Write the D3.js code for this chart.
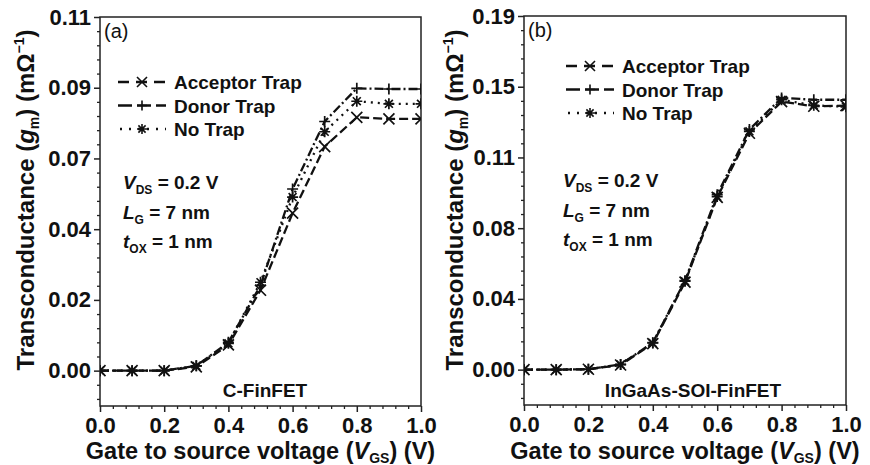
<!DOCTYPE html>
<html>
<head>
<meta charset="utf-8">
<script src="https://cdn.jsdelivr.net/npm/d3@7"></script>
<style>
  body { margin: 0; background: #fff; }
  text { font-family: "Liberation Sans", Arial, sans-serif; fill: #111; }
</style>
</head>
<body>
<div id="chart"></div>
<script>
// gate voltage steps
const vgs = [0, 0.1, 0.2, 0.3, 0.4, 0.5, 0.6, 0.7, 0.8, 0.9, 1.0];

// (a) C-FinFET
const accA   = [0, 0, 0, 0.0012, 0.0080, 0.0250, 0.0490, 0.0697, 0.0788, 0.0783, 0.0783];
const donA   = [0, 0, 0, 0.0015, 0.0088, 0.0265, 0.0565, 0.0775, 0.0878, 0.0876, 0.0876];
const noneA  = [0, 0, 0, 0.0015, 0.0085, 0.0275, 0.0540, 0.0743, 0.0838, 0.0830, 0.0830];

// (b) InGaAs-SOI-FinFET
const accB   = [0, 0, 0.0002, 0.0025, 0.0140, 0.0470, 0.0925, 0.1270, 0.1440, 0.1415, 0.1418];
const donB   = [0, 0, 0.0002, 0.0028, 0.0145, 0.0478, 0.0940, 0.1290, 0.1460, 0.1450, 0.1450];
const noneB  = [0, 0, 0.0002, 0.0027, 0.0143, 0.0475, 0.0930, 0.1280, 0.1450, 0.1420, 0.1412];

const xTicks = [0, 0.2, 0.4, 0.6, 0.8, 1.0];
const xTickLabels = ["0.0", "0.2", "0.4", "0.6", "0.8", "1.0"];
const yTicksA = [0, 0.022, 0.044, 0.066, 0.088, 0.11];
const yTickLabelsA = ["0.00", "0.02", "0.04", "0.07", "0.09", "0.11"];
const yTicksB = [0, 0.038, 0.076, 0.114, 0.152, 0.19];
const yTickLabelsB = ["0.00", "0.04", "0.08", "0.11", "0.15", "0.19"];

const seriesNames = ["Acceptor Trap", "Donor Trap", "No Trap"];

const W = 870, H = 465;
const svg = d3.select("#chart").append("svg")
    .attr("width", W)
    .attr("height", H);

const styles = [
  {dash: "9,4", marker: "x"},
  {dash: "9,3,2,3", marker: "plus"},
  {dash: "2,5", marker: "star"}
];

function markerPath(type, s) {
  const p = d3.path();
  if (type == "x") {
    p.moveTo(-s, -s); p.lineTo(s, s);
    p.moveTo(-s, s); p.lineTo(s, -s);
  } else if (type == "plus") {
    p.moveTo(-s, 0); p.lineTo(s, 0);
    p.moveTo(0, -s); p.lineTo(0, s);
  } else {
    const d = s * 0.72;
    p.moveTo(-s, 0); p.lineTo(s, 0);
    p.moveTo(0, -s); p.lineTo(0, s);
    p.moveTo(-d, -d); p.lineTo(d, d);
    p.moveTo(-d, d); p.lineTo(d, -d);
  }
  return p.toString();
}

function drawPanel(cfg) {
  const x = d3.scaleLinear().domain([0, 1]).range([cfg.left, cfg.right]);
  const y = d3.scaleLinear().domain(cfg.yDomain).range([cfg.bottom, cfg.top]);
  const g = svg.append("g");

  // frame
  g.append("rect")
    .attr("x", cfg.left).attr("y", cfg.top)
    .attr("width", cfg.right - cfg.left).attr("height", cfg.bottom - cfg.top)
    .attr("fill", "none").attr("stroke", "#222").attr("stroke-width", 1.5);

  // minor ticks, 4 between each pair of majors
  const xMinor = d3.range(0, 1.0001, 0.04).filter(v => Math.abs(v / 0.2 - Math.round(v / 0.2)) > 1e-6);
  const xAxMinor = d3.axisBottom(x).tickValues(xMinor).tickSize(3).tickFormat("");
  g.append("g").attr("transform", `translate(0,${cfg.bottom})`).call(xAxMinor)
    .call(a => a.select(".domain").remove())
    .selectAll("line").attr("stroke", "#222").attr("stroke-width", 1.3);

  const yStep = cfg.yTicks[1] / 5;
  const yMinor = [];
  for (let k = -10; k < 60; k++) {
    const v = k * yStep;
    if (v < cfg.yDomain[0] - 1e-9 || v > cfg.yDomain[1] + 1e-9) continue;
    if (k % 5 == 0) continue;
    yMinor.push(v);
  }
  const yAxMinor = d3.axisLeft(y).tickValues(yMinor).tickSize(3).tickFormat("");
  g.append("g").attr("transform", `translate(${cfg.left},0)`).call(yAxMinor)
    .call(a => a.select(".domain").remove())
    .selectAll("line").attr("stroke", "#222").attr("stroke-width", 1.3);

  // major axes
  const xAx = d3.axisBottom(x).tickValues(xTicks).tickSize(6).tickPadding(5)
    .tickFormat((d, i) => xTickLabels[i]);
  const gx = g.append("g").attr("transform", `translate(0,${cfg.bottom})`).call(xAx);
  gx.select(".domain").remove();
  gx.selectAll("line").attr("stroke", "#222").attr("stroke-width", 1.5);
  gx.selectAll("text").attr("font-size", 22).attr("font-weight", "bold")
    .attr("fill", "#111").attr("font-family", "Liberation Sans, Arial, sans-serif");

  const yAx = d3.axisLeft(y).tickValues(cfg.yTicks).tickSize(6).tickPadding(3)
    .tickFormat((d, i) => cfg.yTickLabels[i]);
  const gy = g.append("g").attr("transform", `translate(${cfg.left},0)`).call(yAx);
  gy.select(".domain").remove();
  gy.selectAll("line").attr("stroke", "#222").attr("stroke-width", 1.5);
  gy.selectAll("text").attr("font-size", 22).attr("font-weight", "bold")
    .attr("fill", "#111").attr("font-family", "Liberation Sans, Arial, sans-serif");

  // axis titles
  const cx = (cfg.left + cfg.right) / 2;
  const xt = g.append("text").attr("x", cx).attr("y", 459)
    .attr("text-anchor", "middle").attr("font-size", 23.5).attr("font-weight", "bold");
  xt.append("tspan").text("Gate to source voltage (");
  xt.append("tspan").attr("font-style", "italic").text("V");
  xt.append("tspan").attr("font-size", 14).attr("dy", 4).text("GS");
  xt.append("tspan").attr("dy", -4).text(") (V)");

  const yt = g.append("text")
    .attr("transform", `translate(${cfg.titleX},200) rotate(-90)`)
    .attr("text-anchor", "middle").attr("font-size", 24).attr("font-weight", "bold");
  yt.append("tspan").text("Transconductance (");
  yt.append("tspan").attr("font-style", "italic").text("g");
  yt.append("tspan").attr("font-size", 14).attr("dy", 5).text("m");
  yt.append("tspan").attr("dy", -5).text(") (m\u03A9");
  yt.append("tspan").attr("font-size", 14).attr("dy", -10).text("\u22121");
  yt.append("tspan").attr("dy", 10).text(")");

  // panel label
  g.append("text").attr("x", cfg.left + 4).attr("y", cfg.top + 21)
    .attr("font-size", 20).text(cfg.label);

  // clip
  const clipId = "clip" + cfg.label.replace(/\W/g, "");
  svg.append("clipPath").attr("id", clipId).append("rect")
    .attr("x", cfg.left).attr("y", cfg.top)
    .attr("width", cfg.right - cfg.left).attr("height", cfg.bottom - cfg.top);

  const plot = g.append("g").attr("clip-path", `url(#${clipId})`);
  const line = d3.line().x((d, i) => x(vgs[i])).y(d => y(d));

  cfg.series.forEach((vals, k) => {
    plot.append("path").datum(vals)
      .attr("d", line)
      .attr("fill", "none").attr("stroke", "#111")
      .attr("stroke-width", 2.3)
      .attr("stroke-dasharray", styles[k].dash);
    plot.selectAll(null).data(vals).enter().append("path")
      .attr("transform", (d, i) => `translate(${x(vgs[i])},${y(d)})`)
      .attr("d", markerPath(styles[k].marker, 5.5))
      .attr("fill", "none").attr("stroke", "#111").attr("stroke-width", 1.7);
  });

  // legend
  seriesNames.forEach((name, k) => {
    const ly = cfg.legendY + k * 23.5;
    g.append("line")
      .attr("x1", cfg.legendX).attr("x2", cfg.legendX + 48)
      .attr("y1", ly).attr("y2", ly)
      .attr("stroke", "#111").attr("stroke-width", 2.3)
      .attr("stroke-dasharray", k == 2 ? "2,7" : (k == 1 ? "14,5" : "11,7"))
      .attr("stroke-dashoffset", k == 2 ? -2 : 0);
    g.append("path")
      .attr("transform", `translate(${cfg.legendX + 24},${ly})`)
      .attr("d", markerPath(styles[k].marker, 5))
      .attr("fill", "none").attr("stroke", "#111").attr("stroke-width", 1.6);
    g.append("text").attr("x", cfg.legendX + 56).attr("y", ly + 7)
      .attr("font-size", 19).attr("font-weight", "bold").text(name);
  });

  // conditions
  const notes = [["V", "DS", " = 0.2 V"], ["L", "G", " = 7 nm"], ["t", "OX", " = 1 nm"]];
  notes.forEach((n, k) => {
    const t = g.append("text").attr("x", cfg.noteX).attr("y", cfg.noteY + k * 29.5)
      .attr("font-size", 19).attr("font-weight", "bold");
    t.append("tspan").attr("font-style", "italic").text(n[0]);
    t.append("tspan").attr("font-size", 12).attr("dy", 5).text(n[1]);
    t.append("tspan").attr("dy", -5).text(n[2]);
  });

  g.append("text").attr("x", cfg.nameX).attr("y", 397)
    .attr("text-anchor", "middle").attr("font-size", 19).attr("font-weight", "bold")
    .text(cfg.name);
}

drawPanel({
  left: 100, right: 421, top: 17, bottom: 406,
  yDomain: [-0.011, 0.11], yTicks: yTicksA, yTickLabels: yTickLabelsA,
  series: [accA, donA, noneA],
  label: "(a)", titleX: 34,
  legendX: 118, legendY: 82,
  noteX: 123, noteY: 189,
  nameX: 265, name: "C-FinFET"
});

drawPanel({
  left: 524, right: 846, top: 16, bottom: 405,
  yDomain: [-0.019, 0.19], yTicks: yTicksB, yTickLabels: yTickLabelsB,
  series: [accB, donB, noneB],
  label: "(b)", titleX: 463,
  legendX: 566, legendY: 66,
  noteX: 563, noteY: 187,
  nameX: 693, name: "InGaAs-SOI-FinFET"
});
</script>
</body>
</html>
